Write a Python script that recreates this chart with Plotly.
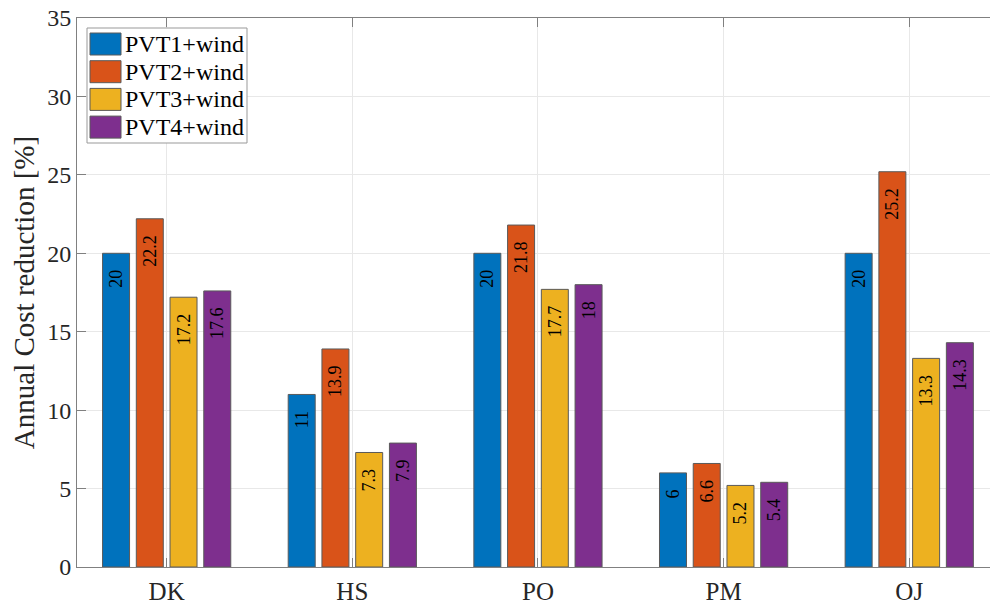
import plotly.graph_objects as go

categories = ["DK", "HS", "PO", "PM", "OJ"]
series_names = ["PVT1+wind", "PVT2+wind", "PVT3+wind", "PVT4+wind"]
pvt1 = [20, 11, 20, 6, 20]
pvt2 = [22.2, 13.9, 21.8, 6.6, 25.2]
pvt3 = [17.2, 7.3, 17.7, 5.2, 13.3]
pvt4 = [17.6, 7.9, 18, 5.4, 14.3]
y_ticks = [0, 5, 10, 15, 20, 25, 30, 35]

colors = ["#0072BD", "#D95319", "#EDB120", "#7E2F8E"]
FONT = "Liberation Serif, Times New Roman, serif"
TXT = "#262626"

W, H = 990, 606
PL, PT, PB, PR = 77, 18, 567, 990          # plot area in window pixels
L, T, B, R = PL, PT, H - PB, W - PR
pw, ph = PR - PL, PB - PT

fig = go.Figure()
for name, vals, col in zip(series_names, [pvt1, pvt2, pvt3, pvt4], colors):
    fig.add_trace(go.Bar(
        x=categories, y=vals, name=name,
        marker=dict(color=col, line=dict(color="#5a5a5a", width=1)),
        text=[f"{v:g}\u00a0\u00a0\u00a0" for v in vals],
        textposition="inside", insidetextanchor="end", textangle=-90,
        insidetextfont=dict(family=FONT, size=18, color="black"),
        constraintext="none",
        showlegend=False, hoverinfo="x+y+name",
    ))

# custom MATLAB-like legend (window pixel positions -> paper coords)
def px2x(px):
    return (px - PL) / pw

def py2y(py):
    return (PB - py) / ph

shapes = [dict(type="rect", xref="paper", yref="paper",
               x0=px2x(87), x1=px2x(247), y0=py2y(143), y1=py2y(28),
               line=dict(color="#999999", width=1), fillcolor="white", layer="above")]
annotations = []
for i, (name, col) in enumerate(zip(series_names, colors)):
    top = 33 + i * 27.7
    shapes.append(dict(type="rect", xref="paper", yref="paper",
                       x0=px2x(90), x1=px2x(121), y0=py2y(top + 22), y1=py2y(top),
                       line=dict(color="#5a5a5a", width=1), fillcolor=col, layer="above"))
    annotations.append(dict(xref="paper", yref="paper", x=px2x(123), y=py2y(top + 11),
                            text=name, showarrow=False, xanchor="left", yanchor="middle",
                            font=dict(family=FONT, size=24, color="black")))

fig.update_layout(
    width=W, height=H,
    margin=dict(l=L, r=R, t=T, b=B, autoexpand=False),
    paper_bgcolor="white", plot_bgcolor="white",
    barmode="group", bargap=0.273, bargroupgap=0.2,
    font=dict(family=FONT, color=TXT, size=24),
    shapes=shapes, annotations=annotations,
)
fig.update_xaxes(
    range=[-0.483, 4.435], automargin=False,
    showline=True, linecolor="#808080", linewidth=1, mirror="ticks",
    ticks="inside", ticklen=9, tickcolor="#808080",
    showgrid=True, gridcolor="#e8e8e8", gridwidth=1,
    tickfont=dict(family=FONT, size=25, color=TXT),
    ticklabelstandoff=2,
)
fig.update_yaxes(
    range=[0, 35], tickvals=y_ticks, automargin=False,
    ticklabeloverflow="allow",
    showline=True, linecolor="#808080", linewidth=1,
    ticks="inside", ticklen=9, tickcolor="#808080",
    showgrid=True, gridcolor="#e8e8e8", gridwidth=1, zeroline=False,
    tickfont=dict(family=FONT, size=24, color=TXT),
    title=dict(text="Annual Cost reduction [%]", font=dict(family=FONT, size=29, color=TXT), standoff=4),
)

fig.write_html(
    "out.html",
    config={"displayModeBar": False},
    post_script="document.body.style.margin='0px'; document.body.style.overflow='hidden';",
)
